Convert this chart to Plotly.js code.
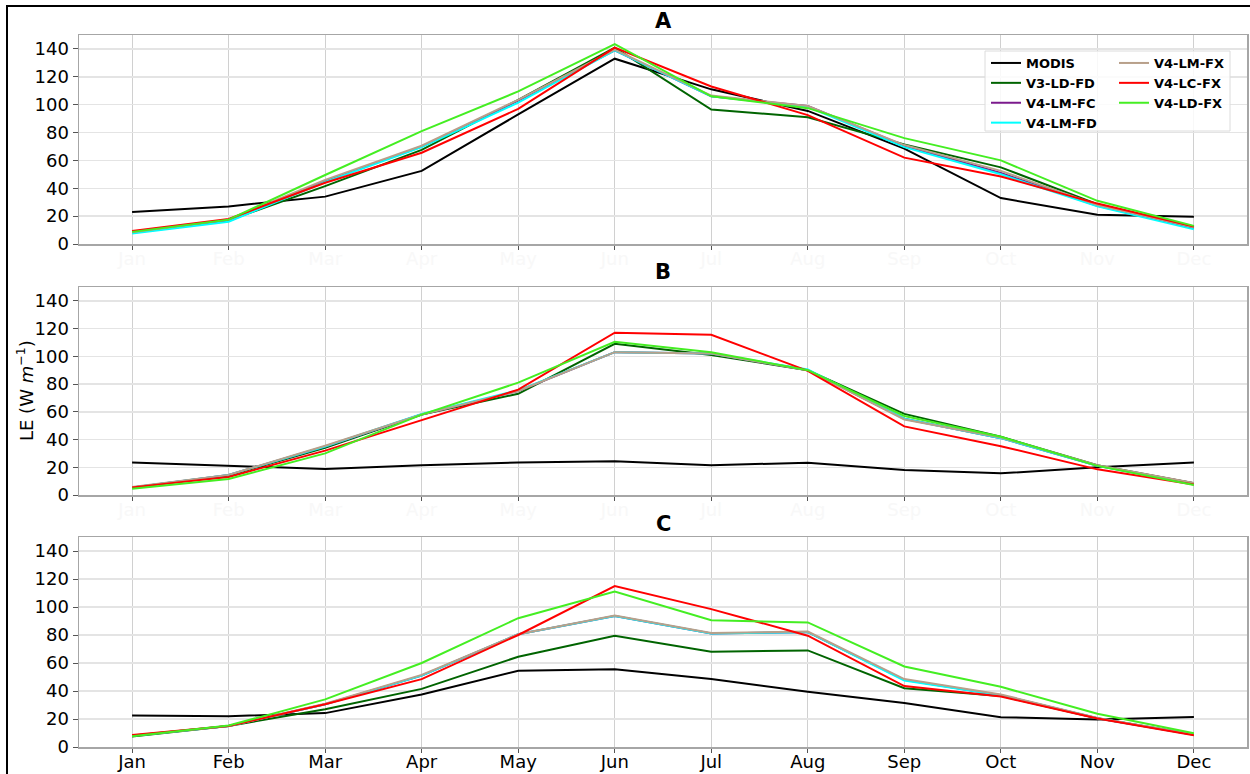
<!DOCTYPE html>
<html>
<head>
<meta charset="utf-8">
<script src="https://cdn.plot.ly/plotly-3.0.1.min.js"></script>
<style>
  html, body { margin: 0; padding: 0; background: #fff; }
  #wrap { position: relative; width: 1250px; height: 774px; }
  #chart { position: absolute; left: 0; top: 0; width: 1250px; height: 774px; }
  #frame { position: absolute; left: 6px; top: 5px; width: 1260px; height: 800px;
           border-top: 2px solid #000; border-left: 2px solid #000; pointer-events: none; }
</style>
</head>
<body>
<div id="wrap">
  <div id="chart"></div>
  <div id="frame"></div>
</div>
<script>
// ---------- data ----------
const months = ["Jan","Feb","Mar","Apr","May","Jun","Jul","Aug","Sep","Oct","Nov","Dec"];
const seriesNames = ["MODIS","V3-LD-FD","V4-LM-FC","V4-LM-FD","V4-LM-FX","V4-LC-FX","V4-LD-FX"];
const panelTitles = ["A","B","C"];
const yTicks = [0,20,40,60,80,100,120,140];

// Panel A
const MODIS_A    = [23, 27, 34, 52.5, 93, 133, 111, 95.5, 68.5, 33, 21, 19.5];
const V3LDFD_A   = [8.5, 17, 41.5, 67.5, 103.5, 141, 96.5, 91, 71.5, 55, 28.5, 12];
const V4LMFC_A   = [8, 16.5, 45, 70, 103, 139, 106, 99, 70.5, 51, 27.5, 11.5];
const V4LMFD_A   = [7.5, 16, 44.5, 69.5, 101.5, 139, 106, 98.5, 69.5, 50, 27, 10.5];
const V4LMFX_A   = [8.5, 17.5, 46, 70.5, 103.5, 139.5, 106.5, 99, 71, 52.5, 28, 12];
const V4LCFX_A   = [9.3, 18, 44, 65.5, 97, 141, 113, 92.5, 62, 48.5, 29, 12.5];
const V4LDFX_A   = [8.7, 17.5, 49.5, 81, 109.5, 143.5, 106, 97.5, 76, 60, 31, 13];

// Panel B
const MODIS_B    = [23.5, 21, 18.7, 21.5, 23.4, 24.4, 21.5, 23.3, 18, 15.6, 20, 23.5];
const V3LDFD_B   = [5.5, 14, 34, 58, 73, 109, 101, 90, 58.5, 42, 21.5, 8.5];
const V4LMFC_B   = [5.5, 14.5, 35, 58, 75, 103, 102, 90, 55, 41, 21, 8.5];
const V4LMFD_B   = [5.5, 14.5, 35, 58.5, 75.5, 103, 102, 90.5, 55, 41, 21, 8];
const V4LMFX_B   = [5.8, 14.5, 35.5, 58, 75, 103, 102, 90, 54.5, 41.5, 21.5, 8.7];
const V4LCFX_B   = [5.5, 13, 32, 54, 76, 117, 115.5, 89.5, 49.5, 35.2, 18.5, 7.5];
const V4LDFX_B   = [4.5, 11.5, 30, 58, 81, 110.5, 103, 90, 57, 42, 21, 7.2];

// Panel C
const MODIS_C    = [22.5, 22, 24.2, 37.5, 54.5, 55.5, 48.5, 39.5, 31.5, 21.3, 19.7, 21.5];
const V3LDFD_C   = [7.5, 15, 27, 41.5, 64.5, 79.5, 68, 69, 42, 36.5, 20.5, 9];
const V4LMFC_C   = [8, 15, 30.5, 51, 80.5, 93.5, 81, 82, 48, 37, 20.5, 8.8];
const V4LMFD_C   = [8, 15, 30.5, 51, 80.5, 93.5, 81, 82, 47.5, 37, 20.5, 8.8];
const V4LMFX_C   = [8.2, 15, 31, 51.5, 80.5, 94, 81.5, 82.5, 48.5, 37.5, 20.8, 9];
const V4LCFX_C   = [8.6, 15, 30.5, 48.5, 80, 115, 98.5, 79.5, 43.5, 36, 20.3, 8.4];
const V4LDFX_C   = [7.7, 15.3, 34, 60, 92, 111, 90.5, 89, 57.5, 43, 23.7, 9.8];

// ---------- styles ----------
const colors = ["#000000","#006400","#7b1a8c","#00ffff","#b8a08a","#ff0000","#44ee22"];
const FONT = "DejaVu Sans";

const panels = [
  [MODIS_A, V3LDFD_A, V4LMFC_A, V4LMFD_A, V4LMFX_A, V4LCFX_A, V4LDFX_A],
  [MODIS_B, V3LDFD_B, V4LMFC_B, V4LMFD_B, V4LMFX_B, V4LCFX_B, V4LDFX_B],
  [MODIS_C, V3LDFD_C, V4LMFC_C, V4LMFD_C, V4LMFX_C, V4LCFX_C, V4LDFX_C]
];

const traces = [];
panels.forEach((series, p) => {
  series.forEach((vals, s) => {
    traces.push({
      type: "scatter", mode: "lines",
      x: months, y: vals,
      name: seriesNames[s],
      xaxis: p === 0 ? "x" : "x" + (p + 1),
      yaxis: p === 0 ? "y" : "y" + (p + 1),
      line: { color: colors[s], width: 2 },
      showlegend: p === 0,
      legend: s < 4 ? "legend" : "legend2",
      hoverinfo: "skip"
    });
  });
});

// plot geometry (pixels)
const L = 79, R = 3, T = 35, B = 27, W = 1250, H = 774;
const pw = W - L - R, ph = H - T - B;
const py = (pix) => (H - B - pix) / ph;   // pixel y -> paper y
const px = (pix) => (pix - L) / pw;       // pixel x -> paper x

const domains = [[py(244), py(35)], [py(495), py(287)], [py(747), py(537)]];
const titleY = [21, 272, 524];

function xaxisDef(p) {
  return {
    type: "category",
    range: [-0.55, 11.55],
    anchor: p === 0 ? "y" : "y" + (p + 1),
    showgrid: true, gridcolor: "#d0d0d0", gridwidth: 1,
    showline: true, mirror: true, linecolor: "#a6a6a6", linewidth: 1.5,
    ticks: "outside", ticklen: 4, tickcolor: "#555",
    ticklabelstandoff: -6,
    tickfont: { family: FONT, size: 18, color: p === 2 ? "#000" : "#f8f8f8" },
    zeroline: false,
    fixedrange: true
  };
}
function yaxisDef(p) {
  return {
    domain: domains[p],
    anchor: p === 0 ? "x" : "x" + (p + 1),
    range: [0, 150],
    tickvals: yTicks,
    showgrid: true, gridcolor: "#e4e4e4", gridwidth: 1.5,
    showline: true, mirror: true, linecolor: "#a6a6a6", linewidth: 1.5,
    ticks: "outside", ticklen: 5, tickcolor: "#555",
    tickfont: { family: FONT, size: 18, color: "#000" },
    zeroline: false,
    fixedrange: true
  };
}

const layout = {
  width: W, height: H,
  margin: { l: L, r: R, t: T, b: B },
  paper_bgcolor: "#ffffff", plot_bgcolor: "#ffffff",
  font: { family: FONT, color: "#000" },
  xaxis: xaxisDef(0), xaxis2: xaxisDef(1), xaxis3: xaxisDef(2),
  yaxis: yaxisDef(0), yaxis2: yaxisDef(1), yaxis3: yaxisDef(2),
  annotations: panelTitles.map((t, i) => ({
    text: t, xref: "paper", yref: "paper",
    x: 0.5, y: py(titleY[i]), xanchor: "center", yanchor: "middle",
    showarrow: false,
    font: { family: FONT, size: 21, color: "#000", weight: "bold" }
  })).concat([{
    text: "LE (W <i>m</i><sup>−1</sup>)",
    xref: "paper", yref: "paper",
    x: px(25), y: py(391), xanchor: "center", yanchor: "middle",
    textangle: -90, showarrow: false,
    font: { family: FONT, size: 18, color: "#000" }
  }]),
  shapes: [{
    type: "rect", xref: "paper", yref: "paper", layer: "above",
    x0: px(985), x1: px(1230), y0: py(131), y1: py(51),
    line: { color: "#dcdcdc", width: 1 },
    fillcolor: "rgba(255,255,255,0.85)"
  }],
  legend: {
    x: px(986), y: py(48), xanchor: "left", yanchor: "top",
    bgcolor: "rgba(0,0,0,0)", borderwidth: 0,
    font: { family: FONT, size: 13, color: "#000", weight: "bold" },
    tracegroupgap: 0, itemwidth: 30
  },
  legend2: {
    x: px(1114), y: py(48), xanchor: "left", yanchor: "top",
    bgcolor: "rgba(0,0,0,0)", borderwidth: 0,
    font: { family: FONT, size: 13, color: "#000", weight: "bold" },
    tracegroupgap: 0, itemwidth: 30
  },
  hovermode: false
};

Plotly.newPlot("chart", traces, layout, { displayModeBar: false, staticPlot: true });
</script>
</body>
</html>
